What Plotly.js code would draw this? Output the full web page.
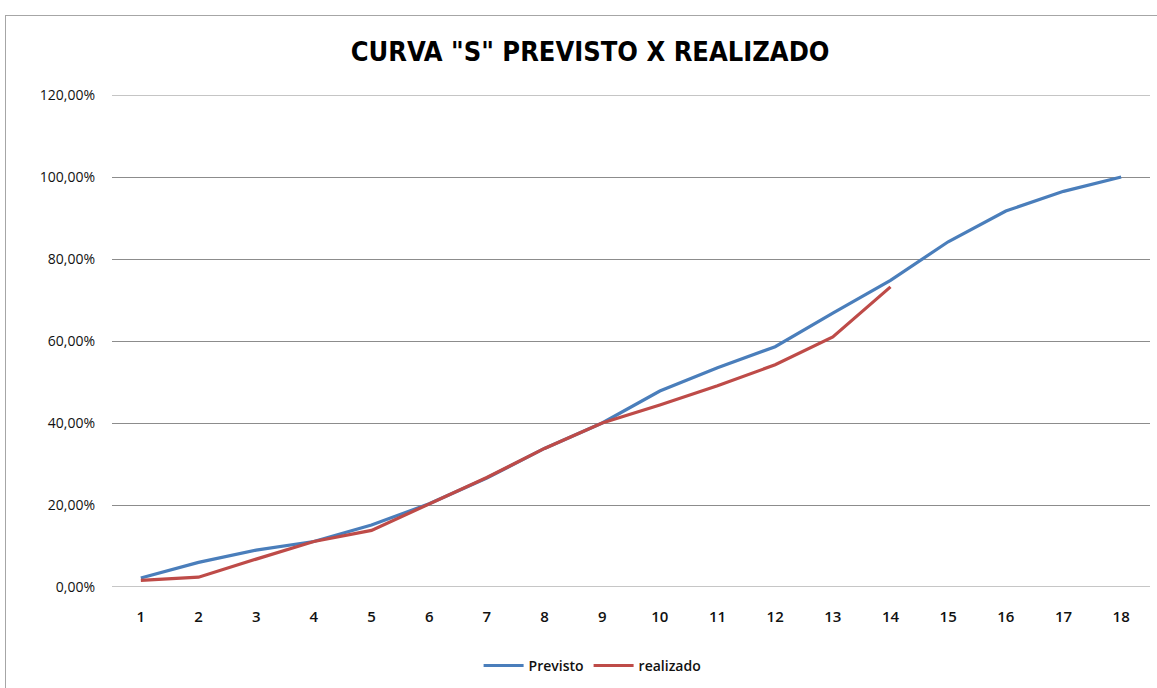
<!DOCTYPE html>
<html>
<head>
<meta charset="utf-8">
<script src="https://cdn.plot.ly/plotly-3.0.1.min.js"></script>
<style>
  html, body { margin: 0; padding: 0; background: #ffffff; }
  #wrap { position: relative; width: 1157px; height: 688px; overflow: hidden; }
  #chart { position: absolute; left: 0; top: 0; width: 1157px; height: 688px; }
  #frame { position: absolute; left: 5px; top: 15px; width: 1200px; height: 700px;
           border: 1px solid #a6a6a6; pointer-events: none; }
</style>
</head>
<body>
<div id="wrap">
  <div id="chart"></div>
  <div id="frame"></div>
</div>
<script>
const categories = [1, 2, 3, 4, 5, 6, 7, 8, 9, 10, 11, 12, 13, 14, 15, 16, 17, 18];
const previsto = [0.022, 0.060, 0.090, 0.111, 0.151, 0.203, 0.266, 0.338, 0.400, 0.478, 0.535, 0.586, 0.668, 0.748, 0.842, 0.917, 0.965, 1.000];
const realizado = [0.016, 0.024, 0.068, 0.111, 0.138, 0.203, 0.267, 0.338, 0.400, 0.444, 0.491, 0.542, 0.610, 0.732];
const yTicks = [0, 0.2, 0.4, 0.6, 0.8, 1.0, 1.2];
const yTickLabels = ["0,00%", "20,00%", "40,00%", "60,00%", "80,00%", "100,00%", "120,00%"];
const titleText = 'CURVA "S" PREVISTO X REALIZADO';

const font = "'Open Sans', 'Liberation Sans', Arial, sans-serif";
const gridColor = "#8c8c8c";

const traces = [
  {
    x: categories, y: previsto, name: "Previsto", type: "scatter", mode: "lines",
    line: { color: "#4a7ebb", width: 3.2 }
  },
  {
    x: categories.slice(0, realizado.length), y: realizado, name: "realizado", type: "scatter", mode: "lines",
    line: { color: "#be4b48", width: 3.2 }
  }
];

const yMin = yTicks[0];
const yMax = yTicks[yTicks.length - 1];

const layout = {
  width: 1157, height: 688,
  paper_bgcolor: "#ffffff", plot_bgcolor: "#ffffff",
  margin: { l: 112, r: 7, t: 95, b: 100, pad: 0 },
  title: {
    text: "<b>" + titleText + "</b>",
    font: { family: "'Liberation Sans Narrow', 'DejaVu Sans Condensed', Arial, sans-serif", size: 27, color: "#000000" },
    x: 0.51, xanchor: "center", y: 0.925, yanchor: "middle"
  },
  xaxis: {
    type: "linear", range: [0.5, 18.5],
    tickmode: "array", tickvals: categories, ticktext: categories.map(String),
    showgrid: false, zeroline: false, showline: false, ticks: "",
    ticklabelstandoff: 19,
    tickfont: { family: font, size: 15, color: "#111111", weight: 600 }
  },
  yaxis: {
    range: [yMin, yMax],
    tickmode: "array", tickvals: yTicks, ticktext: yTickLabels,
    showgrid: true, gridcolor: gridColor, gridwidth: 1,
    zeroline: false, showline: false, ticks: "",
    ticklabelstandoff: 16,
    tickfont: { family: font, size: 14, color: "#111111" }
  },
  shapes: [yMin, yMax].map(v => ({
    type: "line", xref: "paper", yref: "y", x0: 0, x1: 1, y0: v, y1: v,
    line: { color: gridColor, width: 1 }, layer: "below"
  })),
  showlegend: true,
  legend: {
    orientation: "h", x: 0.463, xanchor: "center", y: -0.158, yanchor: "middle",
    font: { family: font, size: 14, color: "#111111", weight: 600 },
    itemwidth: 40, tracegroupgap: 0, bgcolor: "rgba(0,0,0,0)"
  },
  hovermode: false
};

Plotly.newPlot("chart", traces, layout, { displayModeBar: false, staticPlot: true });
</script>
</body>
</html>
